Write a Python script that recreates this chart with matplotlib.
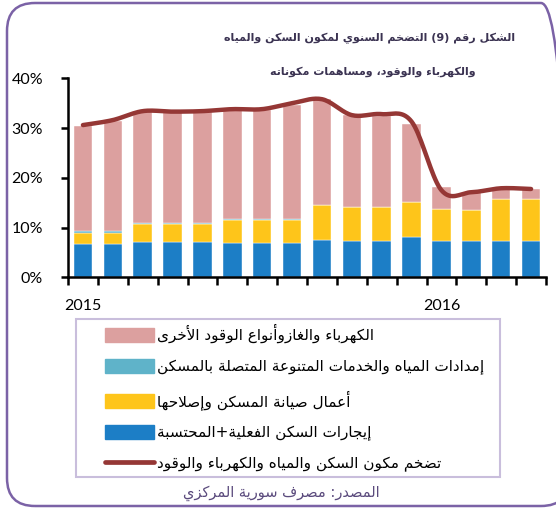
import re
import numpy as np
import matplotlib.pyplot as plt
from matplotlib.patches import FancyBboxPatch, Patch, Rectangle
from matplotlib.lines import Line2D

# ---- data (percent) ----
months = list(range(16))          # Jan 2015 .. Apr 2016
year_labels = {0: '2015', 12: '2016'}
rents = [6.63, 6.63, 7.16, 7.16, 7.16, 6.83, 6.83, 6.83, 7.57, 7.37, 7.37, 8.17, 7.37, 7.30, 7.37, 7.37]
maintenance = [2.34, 2.34, 3.62, 3.62, 3.62, 4.75, 4.75, 4.75, 6.89, 6.69, 6.69, 6.97, 6.36, 6.23, 8.37, 8.37]
water = [0.25, 0.30, 0.05, 0.05, 0.05, 0.05, 0.05, 0.05, 0.05, 0.05, 0.05, 0.05, 0.05, 0.05, 0.05, 0.05]
electricity = [21.28, 22.13, 22.37, 22.37, 22.37, 21.97, 21.97, 22.97, 21.29, 18.49, 18.29, 15.71, 4.32, 3.52, 1.96, 1.96]
total = [30.6, 31.6, 33.4, 33.3, 33.4, 33.8, 33.8, 35.0, 35.8, 32.6, 32.8, 31.3, 17.5, 17.1, 17.9, 17.75]

title_1 = 'الشكل رقم (9) التضخم السنوي لمكون السكن والمياه'
title_2 = 'والكهرباء والوقود، ومساهمات مكوناته'
lbl_elec = 'الكهرباء والغازوأنواع الوقود الأخرى'
lbl_water = 'إمدادات المياه والخدمات المتنوعة المتصلة بالمسكن'
lbl_maint = 'أعمال صيانة المسكن وإصلاحها'
lbl_rent = 'إيجارات السكن الفعلية+المحتسبة'
lbl_total = 'تضخم مكون السكن والمياه والكهرباء والوقود'
source = 'المصدر: مصرف سورية المركزي'

# ---- minimal Arabic shaping (presentation forms) + visual order ----
_letters = 'ءآأؤإئابةتثجحخدذرزسشصضطظعغفقكلمنهوىي'
_counts = [1, 2, 2, 2, 2, 4, 2, 4, 2, 4, 4, 4, 4, 4, 2, 2, 2, 2,
           4, 4, 4, 4, 4, 4, 4, 4, 4, 4, 4, 4, 4, 4, 4, 2, 2, 4]
FORMS = {}
code = 0xFE80
for ch, n in zip(_letters, _counts):
    FORMS[ch] = (code, n)
    code += n
LAM_ALEF = {'آ': 0xFEF5, 'أ': 0xFEF7, 'إ': 0xFEF9, 'ا': 0xFEFB}
for a, c in LAM_ALEF.items():
    FORMS[chr(c)] = (c, 2)


def shape(text):
    s = ''
    i = 0
    while i < len(text):
        if text[i] == 'ل' and i + 1 < len(text) and text[i + 1] in LAM_ALEF:
            s += chr(LAM_ALEF[text[i + 1]])
            i += 2
        else:
            s += text[i]
            i += 1
    out = []
    for i, ch in enumerate(s):
        if ch not in FORMS:
            out.append(ch)
            continue
        start, n = FORMS[ch]
        prev = s[i - 1] if i > 0 else ''
        nxt = s[i + 1] if i + 1 < len(s) else ''
        pc = n >= 2 and prev in FORMS and FORMS[prev][1] == 4
        nc = n == 4 and nxt in FORMS and FORMS[nxt][1] >= 2
        if pc and nc:
            k = 3
        elif pc:
            k = 1
        elif nc:
            k = 2
        else:
            k = 0
        out.append(chr(start + k))
    vis = ''.join(reversed(out))
    vis = vis.translate(str.maketrans('()', ')('))
    vis = re.sub(r'[0-9]+', lambda m: m.group(0)[::-1], vis)
    return vis


def smooth(y, pts=20):
    # Catmull-Rom style smoothing through the points (like Excel's smoothed line)
    y = np.asarray(y, float)
    x = np.arange(len(y), dtype=float)
    xs, ys = [], []
    for i in range(len(y) - 1):
        p0 = i - 1 if i > 0 else i
        p3 = i + 2 if i + 2 < len(y) else i + 1
        c1x = x[i] + (x[i + 1] - x[p0]) / 6
        c1y = y[i] + (y[i + 1] - y[p0]) / 6
        c2x = x[i + 1] - (x[p3] - x[i]) / 6
        c2y = y[i + 1] - (y[p3] - y[i]) / 6
        t = np.linspace(0, 1, pts)
        bx = (1 - t) ** 3 * x[i] + 3 * (1 - t) ** 2 * t * c1x + 3 * (1 - t) * t ** 2 * c2x + t ** 3 * x[i + 1]
        by = (1 - t) ** 3 * y[i] + 3 * (1 - t) ** 2 * t * c1y + 3 * (1 - t) * t ** 2 * c2y + t ** 3 * y[i + 1]
        xs.extend(bx)
        ys.extend(by)
    return np.array(xs), np.array(ys)


c_elec = '#dca09f'
c_water = '#5fb3c9'
c_maint = '#fec51a'
c_rent = '#1c7ec6'
c_line = '#953735'
ar_font = ['DejaVu Sans']

W, H = 556, 508
fig = plt.figure(figsize=(W / 100, H / 100), dpi=100)
fig.patch.set_facecolor('white')

# rounded frame (in inches so the corners stay circular)
frame = FancyBboxPatch((0.07, 0.02), 5.62, 5.03,
                       boxstyle='round,pad=0,rounding_size=0.28',
                       transform=fig.dpi_scale_trans, fill=False,
                       edgecolor='#7b62a6', linewidth=1.8)
fig.add_artist(frame)

ax = fig.add_axes([68 / W, 1 - 277.3 / H, 478 / W, 199 / H])
x = np.array(months)
w = 0.62
b1 = np.array(rents)
b2 = b1 + np.array(maintenance)
b3 = b2 + np.array(water)
ax.bar(x, rents, w, color=c_rent, edgecolor='white', linewidth=0.3)
ax.bar(x, maintenance, w, bottom=b1, color=c_maint, edgecolor='white', linewidth=0.3)
ax.bar(x, water, w, bottom=b2, color=c_water, edgecolor='white', linewidth=0.3)
ax.bar(x, electricity, w, bottom=b3, color=c_elec, edgecolor='white', linewidth=0.3)
sx, sy = smooth(total)
ax.plot(sx, sy, color=c_line, linewidth=3.2, solid_capstyle='round')

ax.set_xlim(-0.5, 15.5)
ax.set_ylim(0, 40)
ax.set_yticks([0, 10, 20, 30, 40])
ax.set_yticklabels(['0%', '10%', '20%', '30%', '40%'], fontsize=11.5, family='Lato')
ax.set_xticks(np.arange(-0.5, 16, 1))
ax.set_xticklabels([])
ax.tick_params(axis='y', length=5, width=1.8, pad=13)
ax.tick_params(axis='x', length=6, width=1.8)
for side in ['top', 'right']:
    ax.spines[side].set_visible(False)
for side in ['left', 'bottom']:
    ax.spines[side].set_linewidth(1.8)
for i, lab in year_labels.items():
    ax.text(i, -5.8, lab, ha='center', va='center', fontsize=11.5, family='Lato')

# title
fig.text(370 / W, 1 - 38 / H, shape(title_1), ha='center', va='center',
         fontsize=8, fontweight='bold', color='#3b3352', family=ar_font)
fig.text(373 / W, 1 - 72 / H, shape(title_2), ha='center', va='center',
         fontsize=8, fontweight='bold', color='#3b3352', family=ar_font)

# legend box + legend entries
fig.add_artist(Rectangle((76 / W, 1 - 477 / H), 424 / W, 158 / H,
                         transform=fig.transFigure, fill=False,
                         edgecolor='#c9bedc', linewidth=1.5))
handles = [Patch(color=c_elec), Patch(color=c_water), Patch(color=c_maint),
           Patch(color=c_rent), Line2D([], [], color=c_line, linewidth=3.4, solid_capstyle='round')]
labels = [shape(t) for t in [lbl_elec, lbl_water, lbl_maint, lbl_rent, lbl_total]]
leg = fig.legend(handles, labels, loc='upper left',
                 bbox_to_anchor=(105 / W, 1 - 324 / H),
                 prop={'family': ar_font, 'size': 11},
                 handlelength=3.2, handleheight=1.05, handletextpad=0.2,
                 labelspacing=1.0, borderpad=0, borderaxespad=0,
                 frameon=False)

fig.text(281 / W, 1 - 493 / H, shape(source), ha='center', va='center',
         fontsize=10.5, color='#5b4b7d', family=ar_font)

fig.savefig('out.png', dpi=100)
